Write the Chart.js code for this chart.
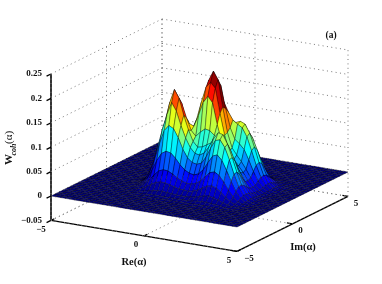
<!DOCTYPE html>
<html>
<head>
<meta charset="utf-8">
<style>
  html, body { margin: 0; background: #fff; }
  canvas { display: block; }
</style>
<script src="https://cdn.jsdelivr.net/npm/chart.js@4"></script>
</head>
<body>
<canvas id="chart" width="382" height="284"></canvas>
<script>
// grid of the surface, 0.25 steps on both axes
const gridRe = [-5,-4.75,-4.5,-4.25,-4,-3.75,-3.5,-3.25,-3,-2.75,-2.5,-2.25,-2,-1.75,-1.5,-1.25,-1,-0.75,-0.5,-0.25,0,0.25,0.5,0.75,1,1.25,1.5,1.75,2,2.25,2.5,2.75,3,3.25,3.5,3.75,4,4.25,4.5,4.75,5];
const gridIm = gridRe;

const reTicks = [-5, 0, 5];
const imTicks = [-5, 0, 5];
const zTicks = [-0.05, 0, 0.05, 0.1, 0.15, 0.2, 0.25];
const zTickLabels = ['\u22120.05', '0', '0.05', '0.1', '0.15', '0.2', '0.25'];
const reTickLabels = ['\u22125', '0', '5'];
const imTickLabels = ['\u22125', '0', '5'];

// heights, in thousandths. Outside this window the surface is flat at 0
const moundFirstRe = 8;  // gridRe index of the first column (Re = -3)
const moundFirstIm = 7;  // gridIm index of the first row (Im = -3.25)
const moundZ = [
  [0,0,0,0,0,0,0,0,0,0,0,0,0,0,0,0,0,0,0,1,1,0,0,0,0,0,0,0,0],
  [0,0,0,0,0,0,0,1,1,1,1,1,1,1,1,1,1,1,2,2,2,2,1,1,0,0,0,0,0],
  [0,0,0,0,0,1,1,2,3,3,3,3,3,3,3,3,3,4,5,6,6,5,4,3,1,1,0,0,0],
  [0,0,0,0,1,2,4,6,8,10,10,9,8,7,7,7,8,9,12,15,16,14,11,7,4,2,1,0,0],
  [0,0,0,1,3,6,11,17,22,25,24,22,19,17,16,15,17,21,27,32,34,31,24,15,8,4,1,0,0],
  [0,0,1,2,6,13,22,33,43,47,46,41,35,30,27,27,30,37,47,57,60,54,42,27,15,7,3,1,0],
  [0,0,1,4,10,21,39,60,76,82,80,71,59,50,45,43,47,57,73,88,92,82,63,42,23,11,4,1,0],
  [0,1,2,6,16,33,60,92,120,132,127,110,88,72,64,62,66,80,100,117,120,106,82,54,30,14,5,2,0],
  [0,1,3,8,20,44,80,118,150,176,160,132,108,90,80,78,84,98,116,130,128,110,84,56,31,14,6,2,1],
  [0,1,3,9,23,50,88,132,172,200,184,150,122,100,90,92,98,104,112,118,112,96,74,48,27,13,6,2,1],
  [0,1,3,8,21,47,84,126,160,186,170,142,118,108,118,126,124,116,108,100,90,76,58,38,21,10,4,1,0],
  [0,1,2,6,17,36,66,98,126,146,142,128,124,148,176,190,178,135,100,84,70,58,44,28,16,8,3,1,0],
  [0,0,1,4,11,23,43,66,86,98,104,112,136,172,204,216,205,155,112,80,66,54,42,27,15,8,3,1,0],
  [0,0,0,2,6,13,23,37,50,61,73,93,128,174,216,236,220,165,115,85,72,60,46,30,16,8,3,1,0],
  [0,0,0,1,3,6,11,18,24,33,45,68,105,152,194,216,205,160,122,100,92,82,62,40,22,10,4,1,0],
  [0,0,0,0,1,2,4,7,10,16,26,46,76,114,149,168,170,150,135,128,122,105,78,50,27,12,4,2,0],
  [0,0,0,0,0,1,1,2,4,7,14,27,48,74,97,114,121,124,127,131,127,110,83,53,28,13,5,2,1],
  [0,0,0,0,0,0,0,1,1,3,7,14,26,41,55,67,76,87,99,110,111,98,75,48,26,12,5,1,0],
  [0,0,0,0,0,0,0,0,0,1,3,6,11,19,27,34,43,55,68,80,84,75,57,37,20,9,4,1,0],
  [0,0,0,0,0,0,0,0,0,0,1,2,4,8,11,16,22,31,41,50,53,48,37,24,13,6,2,1,0],
  [0,0,0,0,0,0,0,0,0,0,0,0,1,2,4,6,10,15,21,27,29,26,20,13,7,3,1,0,0],
  [0,0,0,0,0,0,0,0,0,0,0,0,0,0,1,2,4,7,9,12,13,12,9,6,3,1,1,0,0],
  [0,0,0,0,0,0,0,0,0,0,0,0,0,0,0,0,1,2,4,5,5,5,4,2,1,1,0,0,0],
  [0,0,0,0,0,0,0,0,0,0,0,0,0,0,0,0,0,0,1,1,2,1,1,0,0,0,0,0,0]
];

const heightAt = (i, j) => {
  const row = moundZ[j - moundFirstIm];
  const v = row ? row[i - moundFirstRe] : 0;
  return (v || 0) / 1000;
};

// fixed oblique view of the MATLAB box, gives x/y values on the hidden linear scales
const project = (re, im, z) => ({
  x: 51 + (re + 5) * 18.6 + (im + 5) * 11.1,
  y: 196 + (re + 5) * 3.1 - (im + 5) * 5.5 - z * 488
});

const jet = (value) => {
  const t = Math.min(1, value);
  const c = (v) => Math.round(255 * Math.max(0, Math.min(1, v)));
  return `rgb(${c(1.5 - Math.abs(4 * t - 3))},${c(1.5 - Math.abs(4 * t - 2))},${c(1.5 - Math.abs(4 * t - 1))})`;
};

const zBottom = -0.05, zTop = 0.25, zColorMax = 0.22;

const segment = (a, b, style) => ({
  data: [project(...a), project(...b)],
  showLine: true,
  pointRadius: 0,
  borderColor: style.color,
  borderWidth: style.width,
  borderDash: style.dash || []
});

const dotted = { color: '#777', width: 1, dash: [1, 3.4] };
const solid = { color: '#000', width: 1.3 };
const datasets = [];

// back walls and floor
zTicks.forEach(z => {
  datasets.push(segment([-5, -5, z], [-5, 5, z], dotted));
  datasets.push(segment([-5, 5, z], [5, 5, z], dotted));
});
imTicks.forEach(im => {
  datasets.push(segment([-5, im, zBottom], [-5, im, zTop], dotted));
  datasets.push(segment([-5, im, zBottom], [5, im, zBottom], dotted));
});
reTicks.forEach(re => {
  datasets.push(segment([re, 5, zBottom], [re, 5, zTop], dotted));
  datasets.push(segment([re, -5, zBottom], [re, 5, zBottom], dotted));
});

// axes and their ticks
datasets.push(segment([-5, -5, zBottom], [-5, -5, zTop], { color: '#000', width: 1.6 }));
datasets.push(segment([-5, -5, zBottom], [5, -5, zBottom], solid));
datasets.push(segment([5, -5, zBottom], [5, 5, zBottom], solid));
zTicks.forEach(z => datasets.push(segment([-5, -5, z], [-5, -5.4, z], solid)));
reTicks.forEach(re => datasets.push(segment([re, -5, zBottom], [re, -4.7, zBottom], solid)));
imTicks.forEach(im => datasets.push(segment([5, im, zBottom], [4.7, im, zBottom], solid)));

// surface vertices, faces are painted from these points by the plugin below
const surfacePoints = [];
gridIm.forEach((im, j) => gridRe.forEach((re, i) => surfacePoints.push(project(re, im, heightAt(i, j)))));
const surfaceIndex = datasets.length;
datasets.push({ data: surfacePoints, pointRadius: 0, showLine: false });

const surfacePlugin = {
  id: 'surface',
  afterDatasetsDraw(chart) {
    const pts = chart.getDatasetMeta(surfaceIndex).data;
    const n = gridRe.length;
    const ctx = chart.ctx;
    ctx.save();
    ctx.lineWidth = 0.5;
    ctx.strokeStyle = 'rgba(0,0,0,0.7)';
    ctx.lineJoin = 'round';
    // back to front: high Im first, low Re first
    for (let j = gridIm.length - 2; j >= 0; j--) {
      for (let i = 0; i < n - 1; i++) {
        const corners = [pts[j * n + i], pts[j * n + i + 1], pts[(j + 1) * n + i + 1], pts[(j + 1) * n + i]];
        ctx.beginPath();
        corners.forEach((p, k) => k ? ctx.lineTo(p.x, p.y) : ctx.moveTo(p.x, p.y));
        ctx.closePath();
        // flat facet, coloured from its first corner as surf does
        ctx.fillStyle = jet(heightAt(i, j) / zColorMax);
        ctx.fill();
        ctx.stroke();
      }
    }
    ctx.restore();
  }
};

const labelPlugin = {
  id: 'labels',
  afterDraw(chart) {
    const { ctx, scales: { x, y } } = chart;
    const at = (re, im, z) => {
      const p = project(re, im, z);
      return [x.getPixelForValue(p.x), y.getPixelForValue(p.y)];
    };
    ctx.save();
    ctx.fillStyle = '#111';
    ctx.textBaseline = 'middle';
    ctx.font = 'bold 9px "Liberation Serif"';

    ctx.textAlign = 'right';
    zTicks.forEach((z, k) => {
      const [px, py] = at(-5, -5, z);
      ctx.fillText(zTickLabels[k], px - 9, py);
    });

    ctx.textAlign = 'center';
    reTicks.forEach((re, k) => {
      const [px, py] = at(re, -5, zBottom);
      ctx.fillText(reTickLabels[k], re === -5 ? px - 10 : px - 8, py + 9);
    });
    imTicks.forEach((im, k) => {
      const [px, py] = at(5, im, zBottom);
      ctx.fillText(imTickLabels[k], im === -5 ? px + 12 : px + 8, py + 7);
    });

    ctx.font = 'bold 10.5px "Liberation Serif"';
    ctx.fillText('Re(\u03b1)', 134, 262);
    ctx.fillText('Im(\u03b1)', 303, 247);
    ctx.font = 'bold 9.5px "Liberation Serif"';
    ctx.fillText('(a)', 331, 36);

    // rotated z label, with the subscript set lower
    ctx.translate(12, 165);
    ctx.rotate(-Math.PI / 2);
    ctx.textAlign = 'left';
    ctx.textBaseline = 'alphabetic';
    ctx.font = 'bold 11px "Liberation Serif"';
    ctx.fillText('W', 0, 0);
    ctx.font = 'italic bold 8px "Liberation Serif"';
    ctx.fillText('coh', 9.5, 4);
    ctx.font = '11px "Liberation Serif"';
    ctx.fillText('(\u03b1)', 21, 0);
    ctx.restore();
  }
};

new Chart(document.getElementById('chart'), {
  type: 'scatter',
  data: { datasets },
  options: {
    responsive: false,
    animation: false,
    events: [],
    layout: { padding: 0 },
    plugins: { legend: { display: false }, tooltip: { enabled: false } },
    scales: {
      x: { type: 'linear', min: 0, max: 382, display: false },
      y: { type: 'linear', min: 0, max: 284, reverse: true, display: false }
    }
  },
  plugins: [surfacePlugin, labelPlugin]
});
</script>
</body>
</html>
